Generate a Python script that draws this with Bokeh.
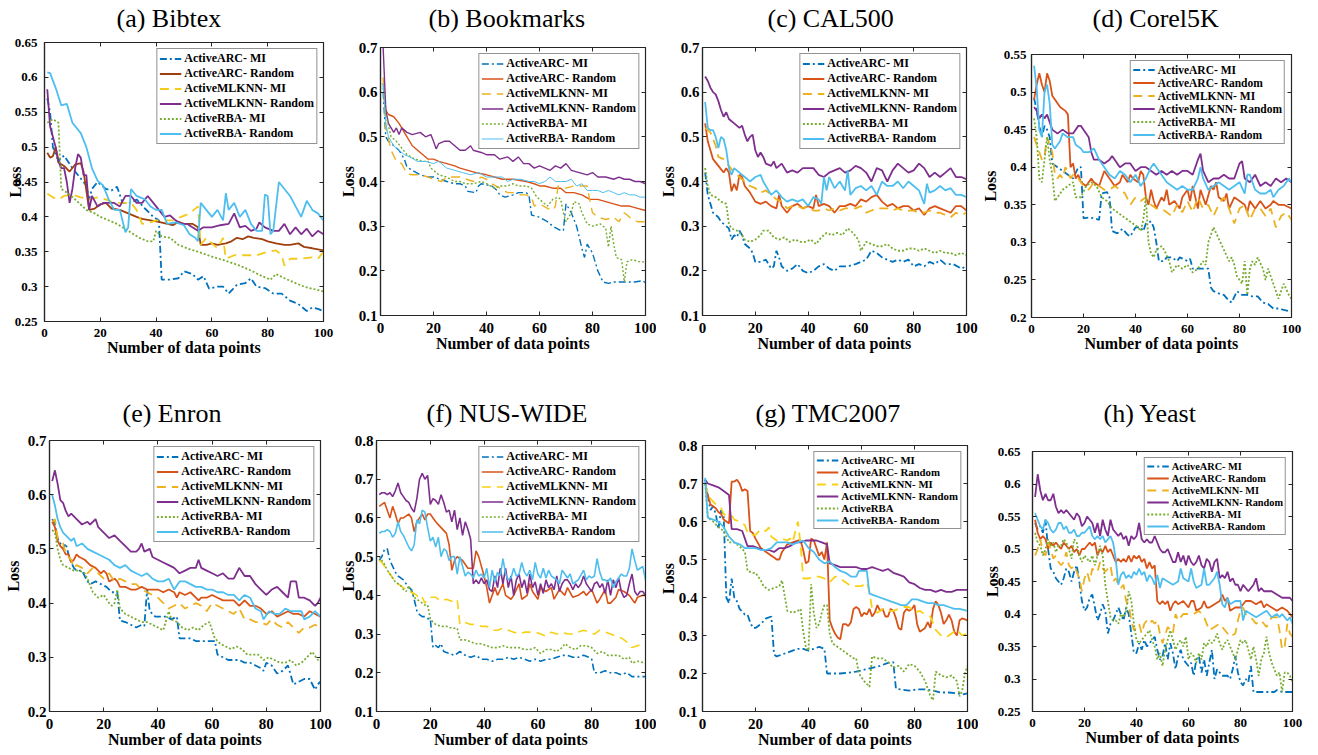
from bokeh.plotting import figure
from bokeh.models import FixedTicker, LinearAxis, Range1d, CustomJSTickFormatter
from bokeh.layouts import row, column
from bokeh.embed import file_html
from bokeh.resources import INLINE

# ---------------- labels / ticks ----------------
LABELS = ["ActiveARC- MI", "ActiveARC- Random", "ActiveMLKNN- MI",
          "ActiveMLKNN- Random", "ActiveRBA- MI", "ActiveRBA- Random"]
LABELS_G = ["ActiveARC- MI", "ActiveARC- Random", "ActiveMLKNN- MI",
            "ActiveMLKNN- Random", "ActiveRBA", "ActiveRBA- Random"]
X_TICKS = [0, 20, 40, 60, 80, 100]
Y_TICKS_A = [0.25, 0.3, 0.35, 0.4, 0.45, 0.5, 0.55, 0.6, 0.65]
Y_TICKS_B = [0.1, 0.2, 0.3, 0.4, 0.5, 0.6, 0.7]
Y_TICKS_C = [0.1, 0.2, 0.3, 0.4, 0.5, 0.6, 0.7]
Y_TICKS_D = [0.2, 0.25, 0.3, 0.35, 0.4, 0.45, 0.5, 0.55]
Y_TICKS_E = [0.2, 0.3, 0.4, 0.5, 0.6, 0.7]
Y_TICKS_F = [0.1, 0.2, 0.3, 0.4, 0.5, 0.6, 0.7, 0.8]
Y_TICKS_G = [0.1, 0.2, 0.3, 0.4, 0.5, 0.6, 0.7, 0.8]
Y_TICKS_H = [0.25, 0.3, 0.35, 0.4, 0.45, 0.5, 0.55, 0.6, 0.65]

# ---------------- (a) Bibtex ----------------
a_arc_mi = [(1,.57),(2,.55),(3,.50),(5,.48),(7,.488),(10,.47),(13,.455),(15,.445),(16,.425),(17,.44),(19,.45),(22,.44),(24,.438),(26,.443),(28,.42),(31,.42),(33,.425),(36,.412),(39,.40),(41,.395),(42,.31),(45,.31),(48,.312),(50,.322),(53,.318),(55,.31),(57,.315),(59,.297),(62,.30),(64,.30),(66,.29),(69,.303),(72,.305),(74,.312),(76,.30),(79,.298),(82,.29),(85,.29),(88,.28),(91,.275),(94,.265),(96,.27),(98,.268),(100,.265)]
a_arc_rand = [(1,.492),(2,.485),(3,.487),(4,.50),(5,.478),(7,.473),(9,.465),(11,.475),(13,.477),(14,.465),(16,.41),(18,.412),(20,.418),(22,.42),(24,.412),(27,.41),(30,.405),(33,.40),(35,.397),(38,.395),(41,.393),(44,.39),(46,.388),(48,.393),(50,.39),(53,.39),(55,.385),(56,.36),(58,.36),(60,.362),(62,.36),(65,.362),(67,.365),(69,.37),(71,.368),(73,.372),(75,.37),(78,.368),(80,.365),(83,.362),(86,.36),(88,.36),(91,.362),(93,.357),(96,.355),(100,.352)]
a_mlknn_mi = [(1,.433),(3,.428),(5,.425),(7,.43),(10,.432),(13,.428),(16,.425),(19,.428),(22,.425),(25,.42),(28,.42),(31,.42),(33,.41),(35,.39),(38,.392),(40,.395),(43,.395),(46,.395),(49,.40),(52,.405),(55,.415),(56,.36),(58,.37),(60,.362),(62,.355),(64,.37),(65,.34),(68,.345),(72,.345),(76,.345),(80,.35),(83,.352),(85,.345),(86,.33),(88,.34),(92,.34),(96,.342),(98,.34),(100,.35)]
a_mlknn_rand = [(1,.583),(2,.53),(4,.50),(5,.48),(6,.47),(7,.47),(8,.45),(9,.42),(10,.44),(11,.47),(12,.49),(13,.485),(14,.46),(15,.46),(16,.41),(17,.43),(19,.415),(21,.42),(23,.42),(25,.42),(27,.415),(29,.43),(31,.43),(33,.42),(35,.42),(37,.43),(39,.42),(41,.41),(43,.40),(45,.402),(47,.395),(49,.39),(51,.39),(53,.385),(55,.38),(57,.385),(60,.385),(63,.388),(66,.39),(68,.405),(70,.385),(72,.387),(74,.38),(76,.383),(77,.392),(79,.385),(82,.38),(84,.38),(86,.39),(88,.375),(90,.385),(92,.375),(94,.383),(96,.372),(98,.38),(100,.375)]
a_rba_mi = [(1,.535),(3,.54),(5,.535),(6,.44),(8,.435),(11,.425),(15,.41),(18,.405),(20,.40),(23,.395),(26,.39),(30,.38),(34,.37),(37,.365),(39,.365),(40,.38),(42,.372),(45,.37),(48,.36),(51,.355),(55,.35),(60,.343),(65,.337),(70,.33),(74,.323),(78,.315),(81,.31),(83,.318),(86,.312),(90,.305),(93,.30),(96,.297),(100,.293)]
a_rba_rand = [(1,.607),(2,.606),(4,.585),(6,.56),(8,.562),(10,.535),(13,.52),(15,.50),(17,.47),(19,.452),(21,.445),(23,.425),(25,.41),(27,.41),(29,.378),(30,.385),(31,.44),(33,.43),(36,.425),(38,.415),(40,.41),(42,.41),(44,.39),(47,.392),(50,.388),(52,.375),(54,.37),(55,.365),(56,.42),(58,.41),(60,.40),(62,.41),(64,.395),(65,.434),(66,.41),(68,.42),(70,.40),(72,.41),(74,.39),(76,.38),(78,.38),(79,.432),(80,.43),(81,.375),(82,.38),(84,.45),(86,.44),(88,.43),(90,.415),(92,.40),(94,.423),(96,.41),(98,.405),(100,.395)]

# ---------------- (b) Bookmarks ----------------
b_arc_mi = [(1,.60),(2,.50),(3,.49),(5,.48),(7,.47),(9,.45),(10,.432),(12,.425),(15,.415),(18,.41),(20,.41),(25,.40),(28,.395),(30,.395),(32,.39),(33,.378),(36,.375),(37,.39),(38,.395),(42,.39),(44,.38),(45,.37),(47,.365),(50,.37),(52,.375),(55,.375),(56,.37),(57,.325),(60,.32),(63,.31),(65,.30),(68,.29),(69,.29),(70,.35),(72,.33),(74,.30),(76,.25),(77,.23),(78,.26),(80,.24),(82,.20),(84,.175),(86,.172),(88,.175),(92,.175),(96,.175),(99,.178),(100,.173)]
b_arc_rand = [(1,.62),(2,.56),(3,.55),(5,.545),(7,.53),(8,.52),(10,.50),(12,.48),(14,.47),(16,.46),(18,.45),(20,.45),(22,.445),(25,.44),(28,.435),(30,.43),(33,.425),(36,.42),(40,.415),(43,.41),(46,.405),(50,.405),(55,.40),(58,.395),(60,.39),(62,.39),(65,.385),(68,.385),(70,.375),(73,.375),(76,.37),(79,.36),(82,.36),(85,.355),(88,.35),(91,.345),(94,.345),(97,.34),(100,.335)]
b_mlknn_mi = [(1,.633),(2,.52),(4,.47),(6,.445),(8,.44),(10,.417),(12,.415),(15,.415),(18,.41),(20,.405),(23,.40),(25,.41),(27,.41),(30,.41),(35,.40),(38,.41),(40,.405),(42,.395),(45,.385),(48,.375),(50,.375),(53,.37),(55,.37),(57,.365),(58,.345),(60,.35),(63,.34),(65,.335),(66,.345),(67,.39),(70,.385),(73,.39),(75,.39),(78,.39),(79,.357),(80,.33),(82,.32),(85,.315),(88,.32),(90,.31),(92,.33),(95,.315),(97,.31),(100,.31)]
b_mlknn_rand = [(1,.70),(2,.56),(3,.53),(4,.52),(5,.51),(6,.52),(7,.505),(8,.52),(10,.51),(12,.505),(15,.51),(17,.50),(19,.505),(20,.49),(21,.473),(22,.485),(24,.49),(26,.49),(28,.48),(30,.47),(32,.47),(34,.48),(35,.47),(38,.465),(40,.46),(43,.46),(45,.45),(48,.455),(50,.445),(52,.455),(54,.44),(56,.44),(58,.43),(60,.435),(62,.43),(64,.425),(66,.435),(68,.43),(70,.44),(72,.425),(75,.42),(78,.415),(80,.42),(82,.41),(85,.41),(88,.405),(90,.41),(92,.405),(94,.405),(96,.40),(98,.40),(100,.395)]
b_rba_mi = [(1,.61),(2,.55),(4,.50),(6,.49),(8,.475),(10,.46),(13,.45),(16,.445),(18,.445),(19,.43),(20,.425),(22,.415),(25,.41),(28,.40),(30,.40),(32,.395),(35,.395),(38,.40),(40,.395),(43,.385),(45,.39),(48,.39),(50,.395),(52,.39),(55,.39),(57,.385),(59,.365),(61,.355),(63,.345),(65,.36),(67,.365),(68,.36),(69,.33),(70,.31),(72,.33),(73,.355),(75,.35),(76,.33),(78,.305),(80,.30),(83,.305),(85,.295),(86,.253),(87,.30),(88,.26),(89,.23),(91,.225),(92,.175),(93,.22),(95,.225),(98,.22),(100,.22)]
b_rba_rand = [(1,.62),(2,.53),(3,.50),(5,.48),(7,.47),(9,.46),(11,.455),(14,.445),(17,.445),(20,.44),(22,.445),(25,.43),(28,.425),(31,.42),(34,.415),(37,.42),(40,.41),(43,.41),(46,.41),(48,.40),(50,.405),(53,.405),(56,.40),(58,.40),(60,.395),(62,.40),(64,.41),(66,.40),(68,.40),(70,.40),(72,.405),(74,.39),(76,.395),(78,.38),(80,.38),(82,.38),(84,.375),(86,.38),(88,.375),(90,.37),(92,.375),(94,.37),(96,.37),(98,.365),(100,.365)]

# ---------------- (c) CAL500 ----------------
c_arc_mi = [(1,.42),(2,.37),(3,.35),(4,.33),(5,.325),(6,.32),(7,.31),(8,.305),(10,.295),(11,.27),(12,.28),(13,.275),(14,.29),(15,.28),(16,.26),(18,.25),(19,.24),(20,.22),(22,.22),(24,.225),(26,.205),(27,.21),(28,.245),(29,.23),(30,.21),(32,.20),(34,.205),(36,.215),(38,.20),(40,.195),(42,.20),(44,.21),(46,.215),(48,.205),(50,.20),(52,.21),(55,.21),(58,.215),(60,.22),(62,.225),(64,.245),(66,.24),(68,.23),(70,.225),(72,.22),(74,.225),(76,.22),(78,.225),(80,.21),(82,.215),(84,.21),(86,.22),(88,.215),(90,.225),(92,.215),(95,.215),(98,.205),(100,.21)]
c_arc_rand = [(1,.53),(2,.49),(3,.47),(4,.45),(6,.435),(8,.42),(9,.43),(10,.42),(11,.378),(12,.395),(13,.38),(14,.415),(15,.41),(16,.39),(18,.375),(20,.355),(22,.35),(24,.355),(26,.345),(28,.34),(29,.37),(30,.345),(32,.33),(34,.345),(36,.35),(38,.34),(40,.345),(42,.34),(43,.37),(44,.345),(46,.35),(48,.345),(50,.33),(52,.345),(54,.345),(56,.35),(58,.345),(60,.36),(62,.355),(64,.365),(66,.37),(68,.355),(70,.345),(72,.35),(74,.34),(76,.345),(78,.345),(80,.335),(82,.34),(84,.325),(86,.34),(88,.345),(90,.34),(92,.335),(94,.33),(96,.345),(98,.345),(100,.335)]
c_mlknn_mi = [(1,.52),(3,.51),(5,.48),(6,.455),(8,.45),(10,.435),(12,.42),(14,.41),(16,.40),(18,.39),(20,.385),(22,.375),(24,.38),(26,.37),(28,.36),(30,.355),(32,.34),(34,.345),(36,.345),(38,.34),(40,.345),(42,.335),(44,.335),(46,.34),(48,.335),(50,.34),(52,.335),(54,.34),(56,.34),(58,.34),(60,.345),(62,.33),(64,.335),(66,.34),(68,.34),(70,.34),(72,.335),(74,.34),(76,.335),(78,.335),(80,.335),(82,.33),(84,.33),(86,.335),(88,.33),(90,.33),(92,.325),(94,.32),(96,.33),(98,.325),(100,.33)]
c_mlknn_rand = [(1,.635),(2,.625),(3,.61),(4,.60),(5,.595),(6,.58),(7,.56),(8,.545),(9,.555),(10,.54),(12,.53),(14,.52),(15,.525),(16,.505),(17,.49),(18,.50),(19,.505),(20,.47),(21,.455),(22,.465),(23,.455),(24,.44),(26,.435),(27,.445),(28,.43),(30,.44),(32,.42),(34,.425),(36,.42),(38,.43),(40,.43),(42,.43),(44,.415),(46,.41),(48,.42),(50,.425),(52,.43),(54,.42),(56,.425),(58,.435),(60,.43),(62,.42),(64,.40),(66,.43),(68,.425),(70,.40),(72,.425),(74,.44),(76,.43),(78,.42),(80,.425),(82,.44),(84,.43),(86,.41),(88,.42),(90,.41),(92,.42),(94,.43),(96,.41),(98,.41),(100,.405)]
c_rba_mi = [(1,.43),(2,.39),(3,.37),(5,.365),(7,.355),(9,.35),(10,.305),(11,.295),(13,.29),(15,.28),(16,.27),(18,.265),(20,.27),(22,.28),(23,.29),(25,.29),(27,.275),(29,.27),(31,.275),(33,.265),(35,.27),(37,.265),(39,.265),(41,.27),(43,.26),(45,.275),(47,.285),(49,.28),(51,.285),(53,.28),(55,.295),(57,.285),(59,.27),(60,.245),(62,.265),(64,.26),(66,.255),(68,.255),(70,.26),(72,.25),(74,.245),(76,.245),(78,.25),(80,.25),(82,.245),(84,.25),(86,.245),(88,.24),(90,.245),(92,.24),(94,.24),(96,.235),(98,.24),(100,.235)]
c_rba_rand = [(1,.578),(2,.52),(3,.515),(4,.515),(5,.50),(6,.475),(7,.50),(8,.495),(9,.47),(10,.43),(11,.415),(12,.43),(14,.42),(16,.41),(18,.40),(20,.41),(22,.415),(23,.40),(24,.39),(26,.37),(28,.38),(30,.365),(32,.355),(34,.36),(36,.355),(38,.36),(40,.345),(42,.365),(44,.36),(45,.35),(46,.41),(47,.38),(48,.41),(50,.385),(52,.40),(54,.38),(55,.425),(56,.37),(58,.385),(60,.39),(62,.38),(64,.39),(66,.37),(68,.40),(70,.39),(72,.39),(74,.40),(76,.385),(78,.40),(80,.39),(82,.38),(84,.35),(85,.395),(86,.375),(88,.38),(90,.39),(92,.38),(94,.385),(96,.37),(98,.37),(100,.365)]

# ---------------- (d) Corel5K ----------------
d_arc_mi = [(1,.492),(2,.475),(3,.455),(4,.44),(5,.455),(6,.45),(7,.44),(8,.405),(10,.40),(12,.395),(14,.39),(16,.385),(18,.40),(19,.40),(20,.332),(22,.333),(24,.332),(26,.33),(27,.365),(29,.367),(30,.36),(31,.315),(33,.312),(35,.318),(37,.31),(38,.308),(40,.32),(42,.32),(43,.315),(44,.325),(46,.328),(47,.32),(48,.30),(49,.275),(51,.275),(52,.28),(54,.28),(56,.275),(57,.28),(59,.277),(60,.275),(61,.278),(62,.265),(64,.265),(66,.265),(68,.265),(69,.24),(70,.235),(72,.232),(74,.23),(76,.222),(77,.22),(79,.235),(81,.23),(83,.23),(85,.228),(87,.228),(89,.22),(91,.218),(93,.212),(95,.212),(97,.21),(100,.208)]
d_arc_rand = [(1,.49),(2,.51),(3,.525),(4,.51),(5,.50),(6,.525),(7,.515),(8,.495),(9,.49),(11,.48),(13,.475),(14,.47),(15,.40),(16,.405),(17,.385),(18,.39),(19,.38),(21,.375),(23,.385),(24,.38),(26,.375),(28,.395),(29,.39),(30,.385),(32,.375),(34,.38),(35,.39),(37,.38),(38,.39),(39,.385),(41,.38),(42,.395),(43,.39),(44,.36),(45,.35),(46,.37),(47,.355),(48,.345),(50,.36),(51,.355),(52,.37),(53,.35),(55,.355),(57,.345),(58,.36),(60,.37),(61,.355),(62,.375),(63,.36),(64,.345),(65,.37),(67,.35),(69,.375),(70,.37),(71,.38),(72,.36),(74,.355),(75,.365),(76,.345),(78,.36),(80,.355),(82,.35),(83,.34),(84,.355),(86,.345),(88,.355),(90,.345),(92,.35),(93,.355),(95,.35),(97,.35),(100,.345)]
d_mlknn_mi = [(1,.44),(2,.43),(3,.42),(4,.41),(5,.415),(6,.44),(7,.43),(8,.42),(9,.39),(10,.385),(11,.39),(12,.385),(13,.40),(14,.395),(15,.385),(16,.39),(17,.385),(18,.385),(20,.375),(22,.37),(24,.38),(26,.375),(28,.37),(30,.37),(32,.375),(34,.37),(36,.365),(38,.35),(40,.36),(42,.355),(44,.36),(46,.35),(48,.345),(50,.345),(52,.34),(54,.335),(56,.35),(58,.34),(60,.355),(62,.34),(64,.36),(66,.345),(68,.35),(70,.335),(72,.35),(74,.36),(76,.345),(78,.325),(80,.345),(82,.35),(84,.33),(86,.345),(88,.345),(90,.335),(92,.345),(94,.32),(96,.335),(98,.34),(100,.33)]
d_mlknn_rand = [(1,.48),(2,.475),(3,.465),(4,.47),(5,.465),(6,.47),(7,.46),(8,.45),(10,.445),(12,.45),(14,.445),(16,.445),(18,.455),(19,.455),(20,.45),(22,.44),(23,.42),(24,.41),(26,.41),(28,.405),(30,.41),(31,.415),(32,.41),(34,.40),(36,.405),(38,.405),(40,.395),(42,.40),(44,.40),(46,.395),(48,.39),(50,.395),(52,.39),(54,.395),(56,.39),(58,.395),(60,.395),(62,.39),(64,.41),(65,.418),(66,.395),(68,.38),(70,.385),(72,.385),(74,.39),(76,.385),(78,.385),(80,.405),(81,.408),(82,.385),(84,.38),(86,.39),(88,.375),(90,.38),(92,.375),(94,.385),(96,.38),(98,.385),(100,.38)]
d_rba_mi = [(1,.465),(2,.44),(3,.385),(4,.38),(5,.41),(6,.44),(7,.41),(8,.39),(9,.355),(10,.36),(12,.37),(14,.375),(16,.38),(17,.36),(19,.36),(21,.375),(23,.38),(25,.375),(27,.36),(29,.355),(31,.345),(33,.34),(35,.335),(37,.33),(39,.325),(41,.32),(42,.315),(43,.33),(44,.36),(45,.30),(46,.285),(47,.28),(48,.29),(50,.295),(51,.29),(53,.275),(54,.26),(56,.27),(58,.265),(60,.27),(62,.26),(64,.265),(66,.275),(67,.27),(68,.30),(70,.32),(72,.305),(74,.29),(76,.275),(77,.28),(78,.27),(79,.255),(81,.245),(82,.275),(83,.23),(84,.265),(85,.275),(86,.27),(87,.28),(89,.265),(90,.25),(91,.265),(93,.245),(95,.225),(97,.245),(99,.23),(100,.225)]
d_rba_rand = [(1,.535),(2,.505),(3,.45),(4,.44),(5,.50),(6,.51),(7,.485),(8,.43),(9,.425),(11,.435),(12,.445),(14,.44),(16,.44),(17,.43),(19,.425),(20,.42),(22,.42),(24,.425),(26,.41),(28,.40),(30,.39),(32,.385),(34,.395),(36,.39),(38,.38),(40,.39),(42,.375),(44,.385),(46,.40),(47,.405),(48,.40),(50,.39),(52,.38),(54,.375),(56,.37),(58,.375),(60,.37),(62,.37),(64,.385),(65,.40),(66,.385),(68,.37),(70,.375),(72,.38),(74,.375),(76,.37),(78,.375),(80,.38),(82,.365),(83,.39),(84,.39),(86,.37),(88,.365),(90,.365),(92,.37),(93,.36),(95,.37),(97,.375),(99,.385),(100,.38)]

# ---------------- (e) Enron ----------------
e_arc_mi = [(1,.555),(2,.545),(3,.52),(5,.50),(6,.51),(7,.49),(8,.475),(9,.465),(10,.46),(12,.46),(14,.44),(15,.435),(17,.44),(19,.435),(21,.43),(23,.42),(25,.42),(26,.368),(28,.365),(30,.36),(32,.355),(34,.36),(35,.358),(36,.425),(37,.385),(39,.375),(41,.375),(43,.375),(45,.37),(47,.375),(48,.335),(50,.335),(52,.335),(54,.33),(56,.33),(58,.33),(61,.33),(62,.305),(64,.30),(66,.295),(68,.295),(70,.295),(72,.29),(74,.29),(76,.285),(78,.28),(79,.275),(80,.29),(82,.285),(84,.27),(86,.275),(88,.285),(90,.25),(92,.255),(94,.26),(96,.26),(98,.24),(99,.25),(100,.255)]
e_arc_rand = [(1,.55),(2,.54),(3,.515),(4,.505),(5,.50),(6,.49),(7,.49),(8,.475),(9,.48),(10,.49),(11,.485),(13,.48),(15,.47),(17,.465),(19,.455),(20,.46),(21,.455),(22,.44),(24,.445),(25,.44),(26,.43),(28,.43),(30,.425),(32,.425),(34,.43),(36,.425),(38,.425),(40,.425),(42,.42),(44,.425),(46,.42),(47,.41),(48,.42),(50,.415),(52,.42),(54,.41),(55,.405),(56,.41),(58,.41),(60,.415),(62,.41),(64,.405),(66,.405),(68,.405),(70,.395),(72,.405),(74,.395),(76,.395),(78,.39),(80,.38),(82,.385),(84,.375),(86,.38),(88,.385),(90,.38),(92,.38),(94,.375),(96,.385),(98,.38),(100,.375)]
e_mlknn_mi = [(1,.55),(2,.555),(3,.52),(5,.51),(6,.49),(8,.48),(9,.465),(10,.47),(12,.465),(14,.455),(16,.465),(17,.46),(18,.455),(20,.445),(22,.455),(24,.44),(26,.445),(28,.44),(30,.435),(32,.435),(34,.425),(36,.42),(38,.415),(40,.41),(42,.40),(44,.39),(46,.395),(48,.40),(50,.39),(52,.395),(54,.40),(56,.395),(58,.385),(60,.40),(62,.395),(64,.39),(66,.385),(68,.38),(70,.39),(72,.37),(74,.37),(76,.365),(78,.365),(80,.36),(82,.37),(84,.36),(86,.355),(88,.365),(90,.355),(92,.345),(94,.355),(96,.355),(98,.36),(100,.355)]
e_mlknn_rand = [(1,.625),(2,.645),(3,.62),(4,.59),(5,.585),(6,.57),(7,.56),(8,.565),(10,.555),(12,.545),(14,.55),(15,.545),(17,.555),(18,.54),(20,.53),(21,.525),(22,.52),(24,.525),(26,.515),(28,.505),(30,.495),(32,.495),(33,.50),(34,.51),(35,.495),(37,.50),(38,.485),(40,.48),(42,.475),(44,.47),(46,.465),(48,.455),(50,.46),(52,.465),(54,.465),(55,.48),(56,.465),(58,.46),(60,.455),(62,.45),(64,.455),(66,.445),(68,.445),(70,.465),(72,.45),(74,.45),(76,.435),(78,.425),(80,.415),(82,.425),(84,.43),(86,.42),(88,.41),(89,.44),(91,.44),(92,.41),(94,.41),(96,.405),(98,.395),(99,.40),(100,.41)]
e_rba_mi = [(1,.535),(2,.53),(3,.50),(4,.48),(5,.47),(7,.465),(9,.46),(11,.46),(13,.455),(14,.445),(16,.42),(18,.41),(20,.415),(22,.40),(23,.395),(24,.40),(25,.425),(26,.39),(28,.38),(30,.375),(32,.37),(34,.365),(36,.365),(38,.36),(40,.355),(42,.35),(44,.385),(45,.37),(47,.365),(49,.355),(51,.35),(53,.355),(55,.35),(57,.36),(59,.365),(61,.335),(63,.325),(65,.32),(67,.315),(69,.32),(71,.315),(73,.305),(75,.305),(77,.305),(79,.295),(81,.30),(83,.295),(85,.29),(87,.29),(89,.295),(91,.285),(93,.29),(95,.30),(97,.31),(99,.295),(100,.30)]
e_rba_rand = [(1,.60),(2,.58),(3,.555),(4,.54),(5,.53),(6,.525),(7,.52),(8,.515),(9,.52),(10,.505),(12,.51),(14,.50),(16,.495),(18,.49),(20,.485),(22,.48),(24,.47),(26,.465),(28,.47),(30,.46),(32,.455),(34,.45),(36,.455),(38,.445),(40,.44),(42,.44),(44,.445),(46,.425),(48,.44),(50,.44),(52,.435),(54,.43),(56,.43),(58,.425),(60,.425),(62,.42),(64,.42),(66,.415),(68,.415),(70,.405),(72,.415),(74,.41),(76,.39),(78,.385),(79,.37),(81,.385),(83,.38),(85,.38),(87,.39),(89,.385),(91,.385),(93,.385),(94,.37),(96,.375),(98,.385),(100,.375)]

# ---------------- (f) NUS-WIDE ----------------
f_arc_mi = [(1,.49),(2,.50),(3,.52),(4,.52),(5,.49),(7,.46),(8,.45),(9,.445),(10,.44),(12,.42),(13,.415),(14,.39),(15,.36),(16,.35),(17,.345),(18,.345),(19,.34),(20,.34),(21,.265),(22,.27),(23,.265),(24,.275),(25,.255),(27,.25),(29,.245),(31,.255),(33,.245),(35,.24),(37,.245),(39,.235),(41,.235),(43,.23),(45,.235),(47,.235),(49,.24),(51,.235),(53,.24),(55,.235),(57,.23),(59,.235),(61,.23),(63,.235),(65,.235),(67,.24),(69,.245),(71,.245),(73,.24),(75,.24),(77,.245),(79,.24),(80,.235),(81,.20),(83,.20),(85,.205),(87,.20),(89,.20),(91,.195),(93,.20),(95,.19),(97,.19),(100,.19)]
f_arc_rand = [(1,.63),(3,.64),(4,.62),(5,.60),(6,.63),(7,.61),(8,.585),(9,.60),(10,.60),(12,.61),(13,.60),(14,.565),(15,.59),(16,.60),(17,.61),(18,.595),(19,.61),(20,.61),(21,.60),(22,.59),(24,.575),(26,.56),(27,.53),(28,.465),(29,.49),(30,.50),(32,.49),(34,.47),(36,.47),(37,.515),(38,.50),(40,.45),(41,.42),(42,.38),(44,.42),(45,.40),(47,.43),(48,.40),(50,.39),(51,.40),(53,.43),(54,.39),(56,.40),(57,.43),(58,.41),(60,.39),(61,.42),(63,.41),(65,.42),(66,.39),(68,.415),(70,.40),(71,.42),(73,.395),(75,.40),(77,.41),(78,.40),(80,.415),(82,.38),(83,.39),(85,.415),(86,.38),(87,.38),(89,.395),(90,.415),(92,.41),(94,.40),(95,.39),(96,.38),(97,.395),(99,.40),(100,.40)]
f_mlknn_mi = [(1,.49),(2,.485),(4,.465),(6,.445),(8,.43),(10,.42),(12,.41),(14,.405),(15,.40),(16,.39),(17,.395),(18,.38),(19,.39),(20,.395),(22,.395),(24,.385),(26,.39),(28,.385),(30,.39),(31,.325),(33,.33),(35,.325),(37,.325),(39,.32),(41,.32),(43,.31),(45,.31),(47,.315),(49,.31),(51,.305),(53,.30),(55,.305),(57,.305),(59,.305),(61,.30),(63,.295),(65,.305),(67,.30),(69,.305),(71,.30),(73,.30),(75,.305),(77,.31),(79,.305),(81,.30),(83,.31),(85,.305),(87,.30),(89,.295),(91,.29),(93,.28),(95,.265),(97,.27),(99,.275),(100,.27)]
f_mlknn_rand = [(1,.66),(2,.665),(3,.665),(4,.66),(5,.665),(6,.655),(7,.67),(8,.69),(9,.665),(10,.655),(11,.645),(12,.64),(13,.625),(14,.615),(15,.65),(16,.70),(17,.715),(18,.70),(19,.71),(20,.635),(21,.65),(22,.645),(23,.635),(24,.66),(25,.64),(26,.615),(27,.62),(28,.59),(29,.62),(30,.57),(31,.60),(32,.555),(33,.59),(34,.57),(35,.545),(36,.43),(37,.44),(38,.43),(39,.445),(40,.43),(41,.44),(42,.415),(43,.41),(44,.45),(45,.42),(46,.47),(47,.43),(48,.47),(49,.42),(50,.45),(51,.40),(52,.44),(53,.455),(54,.42),(55,.44),(56,.405),(57,.455),(58,.42),(59,.435),(60,.40),(61,.43),(62,.405),(63,.44),(64,.42),(65,.43),(66,.415),(67,.45),(68,.41),(69,.43),(70,.44),(71,.44),(72,.43),(73,.415),(74,.43),(75,.42),(76,.43),(77,.45),(78,.43),(79,.42),(80,.41),(81,.43),(82,.435),(83,.42),(84,.43),(85,.405),(86,.44),(87,.40),(88,.44),(89,.42),(90,.445),(91,.41),(92,.395),(93,.40),(94,.43),(95,.455),(96,.41),(97,.40),(98,.41),(99,.41),(100,.40)]
f_rba_mi = [(1,.50),(2,.49),(3,.48),(4,.465),(5,.455),(6,.445),(7,.435),(8,.43),(9,.425),(10,.415),(11,.41),(12,.425),(13,.41),(14,.395),(15,.39),(16,.385),(17,.38),(18,.375),(19,.375),(20,.34),(21,.33),(22,.325),(24,.32),(26,.32),(28,.315),(30,.315),(31,.285),(33,.285),(35,.28),(37,.275),(39,.275),(41,.27),(43,.265),(45,.265),(47,.27),(49,.265),(51,.265),(53,.265),(55,.26),(57,.26),(59,.265),(61,.25),(63,.26),(65,.26),(67,.255),(69,.265),(70,.275),(72,.265),(74,.26),(76,.27),(78,.27),(80,.265),(82,.25),(84,.255),(86,.245),(88,.245),(90,.245),(92,.235),(94,.24),(95,.225),(97,.23),(100,.225)]
f_rba_rand = [(1,.56),(2,.565),(3,.565),(4,.57),(5,.565),(6,.55),(7,.56),(8,.59),(9,.565),(10,.555),(12,.525),(13,.515),(14,.53),(15,.595),(16,.585),(17,.62),(18,.615),(19,.575),(20,.54),(21,.55),(22,.525),(23,.55),(24,.50),(25,.52),(26,.515),(27,.49),(28,.50),(29,.50),(30,.455),(31,.50),(32,.475),(33,.45),(34,.46),(35,.455),(36,.445),(37,.465),(38,.45),(39,.455),(40,.445),(41,.47),(42,.42),(43,.465),(44,.435),(45,.46),(46,.45),(47,.495),(48,.455),(49,.44),(50,.445),(51,.47),(52,.45),(53,.455),(54,.485),(55,.46),(56,.45),(57,.465),(58,.44),(59,.485),(60,.455),(61,.445),(62,.47),(63,.445),(64,.465),(65,.45),(67,.44),(68,.43),(69,.465),(70,.455),(71,.445),(72,.455),(73,.43),(75,.44),(77,.465),(78,.44),(79,.45),(80,.445),(81,.45),(82,.495),(83,.46),(84,.44),(85,.44),(86,.435),(87,.445),(88,.42),(89,.435),(90,.445),(91,.455),(92,.45),(93,.45),(94,.47),(95,.52),(96,.49),(97,.465),(98,.47),(99,.475),(100,.44)]

# ---------------- (g) TMC2007 ----------------
g_arc_mi = [(1,.71),(2,.67),(3,.63),(4,.64),(5,.62),(6,.58),(7,.63),(8,.615),(9,.40),(10,.385),(11,.45),(12,.40),(13,.39),(14,.37),(16,.355),(17,.355),(18,.335),(19,.32),(20,.32),(22,.33),(24,.345),(26,.35),(27,.25),(28,.245),(30,.25),(32,.255),(34,.26),(36,.265),(38,.265),(40,.26),(42,.265),(44,.27),(46,.265),(47,.20),(49,.20),(52,.20),(55,.202),(58,.205),(61,.21),(64,.215),(67,.22),(70,.228),(72,.23),(73,.16),(75,.158),(78,.155),(81,.158),(84,.158),(87,.155),(90,.15),(93,.15),(96,.148),(98,.145),(100,.148)]
g_arc_rand = [(1,.70),(2,.67),(3,.645),(4,.64),(5,.635),(6,.625),(7,.62),(8,.605),(9,.60),(10,.595),(11,.705),(12,.705),(13,.71),(14,.70),(15,.68),(16,.685),(17,.68),(18,.575),(19,.57),(20,.555),(22,.53),(24,.52),(26,.51),(27,.505),(28,.50),(29,.50),(30,.52),(32,.54),(34,.545),(36,.55),(37,.55),(38,.525),(39,.49),(40,.495),(41,.555),(42,.55),(43,.53),(44,.51),(45,.52),(46,.50),(47,.545),(48,.34),(49,.32),(50,.305),(51,.295),(52,.29),(53,.33),(54,.33),(55,.325),(56,.335),(57,.37),(58,.375),(59,.37),(60,.35),(61,.36),(62,.355),(63,.37),(64,.35),(65,.36),(66,.38),(67,.365),(68,.37),(69,.35),(70,.35),(71,.37),(72,.365),(73,.345),(74,.32),(75,.315),(76,.36),(77,.37),(78,.365),(79,.37),(80,.38),(81,.33),(82,.31),(84,.32),(85,.335),(86,.32),(87,.37),(88,.39),(89,.38),(90,.36),(91,.33),(92,.34),(93,.355),(94,.34),(95,.31),(96,.30),(97,.34),(98,.345),(100,.34)]
g_mlknn_mi = [(1,.70),(2,.675),(3,.66),(5,.645),(7,.635),(8,.62),(9,.615),(11,.615),(12,.605),(14,.60),(16,.59),(17,.57),(18,.565),(20,.565),(22,.58),(24,.575),(25,.585),(26,.56),(28,.55),(30,.555),(32,.55),(33,.555),(34,.545),(36,.60),(37,.54),(38,.45),(40,.45),(42,.455),(44,.455),(46,.45),(48,.44),(50,.455),(52,.45),(54,.44),(56,.43),(58,.43),(60,.43),(62,.44),(63,.415),(64,.37),(66,.36),(68,.37),(70,.365),(72,.365),(74,.37),(76,.375),(78,.375),(80,.36),(82,.365),(84,.355),(86,.35),(88,.315),(90,.30),(92,.295),(94,.305),(96,.315),(98,.30),(100,.305)]
g_mlknn_rand = [(1,.71),(2,.70),(4,.695),(6,.69),(8,.68),(10,.67),(11,.58),(13,.58),(15,.575),(16,.555),(17,.535),(19,.535),(21,.53),(23,.525),(25,.525),(27,.52),(29,.53),(31,.53),(33,.535),(35,.545),(37,.545),(39,.55),(41,.55),(43,.55),(45,.545),(47,.54),(48,.49),(50,.485),(52,.48),(54,.48),(56,.48),(58,.48),(60,.475),(62,.475),(64,.48),(66,.475),(68,.47),(70,.475),(72,.465),(74,.46),(76,.455),(78,.44),(80,.435),(82,.425),(84,.42),(86,.42),(88,.415),(90,.42),(92,.415),(94,.415),(96,.42),(98,.42),(100,.42)]
g_rba_mi = [(1,.70),(2,.61),(4,.60),(6,.585),(8,.575),(10,.545),(12,.545),(14,.535),(16,.52),(17,.47),(19,.465),(20,.465),(22,.445),(23,.43),(25,.42),(27,.425),(29,.43),(30,.445),(31,.405),(32,.365),(34,.36),(36,.365),(37,.37),(38,.31),(39,.27),(40,.26),(41,.435),(42,.36),(43,.32),(44,.33),(45,.36),(46,.38),(47,.38),(48,.305),(49,.28),(51,.27),(53,.26),(55,.25),(57,.24),(58,.24),(59,.20),(61,.18),(63,.165),(64,.245),(66,.24),(68,.24),(70,.23),(72,.215),(74,.22),(76,.205),(78,.225),(80,.22),(82,.205),(84,.18),(86,.14),(87,.13),(88,.205),(90,.195),(92,.19),(94,.195),(96,.18),(97,.14),(98,.155),(99,.20),(100,.22)]
g_rba_rand = [(1,.715),(2,.61),(4,.605),(6,.60),(8,.585),(10,.56),(12,.545),(14,.54),(16,.53),(18,.53),(20,.53),(22,.525),(24,.525),(26,.53),(28,.545),(30,.545),(32,.545),(34,.54),(36,.545),(38,.55),(40,.53),(42,.52),(44,.50),(46,.49),(48,.495),(50,.48),(52,.47),(54,.465),(56,.455),(58,.455),(59,.47),(61,.47),(62,.47),(63,.41),(65,.405),(67,.40),(69,.395),(71,.39),(73,.385),(75,.38),(77,.38),(79,.395),(81,.395),(83,.39),(85,.385),(87,.385),(89,.38),(91,.38),(93,.375),(95,.37),(97,.37),(100,.365)]

# ---------------- (h) Yeast ----------------
h_arc_mi = [(1,.54),(2,.53),(3,.535),(4,.525),(5,.545),(6,.50),(7,.47),(8,.465),(9,.455),(10,.45),(11,.445),(12,.455),(13,.47),(14,.465),(15,.45),(16,.465),(17,.475),(18,.45),(19,.42),(20,.405),(21,.41),(22,.425),(23,.43),(24,.41),(25,.39),(26,.40),(27,.415),(28,.405),(29,.37),(30,.385),(31,.39),(32,.40),(33,.41),(34,.40),(35,.39),(36,.41),(37,.40),(38,.37),(39,.34),(40,.34),(41,.355),(42,.345),(43,.36),(44,.35),(45,.355),(46,.36),(47,.365),(48,.345),(49,.33),(50,.335),(51,.355),(52,.33),(53,.355),(54,.34),(55,.315),(56,.335),(57,.345),(58,.33),(59,.325),(60,.32),(61,.325),(62,.305),(63,.33),(64,.335),(65,.31),(66,.33),(67,.305),(68,.325),(69,.345),(70,.30),(71,.315),(72,.31),(73,.305),(75,.305),(76,.30),(77,.315),(78,.335),(79,.31),(80,.295),(81,.29),(82,.30),(83,.295),(84,.32),(85,.28),(87,.28),(89,.28),(91,.28),(93,.28),(94,.283),(96,.28),(98,.28),(100,.28)]
h_arc_rand = [(1,.545),(2,.525),(3,.515),(4,.52),(5,.515),(6,.50),(7,.51),(8,.505),(9,.51),(10,.505),(11,.50),(12,.51),(13,.505),(14,.50),(15,.505),(16,.495),(17,.50),(18,.49),(19,.50),(20,.50),(21,.505),(22,.51),(23,.505),(24,.51),(25,.49),(26,.50),(27,.495),(28,.505),(29,.495),(30,.50),(31,.49),(32,.48),(33,.485),(34,.48),(35,.485),(36,.48),(37,.49),(38,.48),(39,.49),(40,.485),(41,.49),(42,.48),(43,.485),(44,.47),(45,.48),(46,.47),(47,.475),(48,.42),(49,.415),(50,.42),(51,.415),(52,.42),(53,.405),(54,.415),(55,.42),(56,.415),(58,.42),(60,.41),(61,.42),(62,.42),(63,.405),(65,.41),(66,.42),(67,.41),(68,.41),(70,.415),(72,.42),(73,.43),(74,.42),(75,.425),(76,.405),(78,.41),(80,.41),(82,.42),(84,.42),(86,.415),(88,.42),(89,.41),(90,.415),(92,.41),(94,.405),(96,.41),(98,.405),(100,.395)]
h_mlknn_mi = [(1,.49),(2,.50),(3,.515),(4,.495),(5,.49),(6,.51),(7,.50),(8,.485),(9,.49),(10,.48),(11,.475),(12,.48),(13,.495),(14,.475),(15,.47),(16,.475),(17,.465),(18,.455),(19,.435),(20,.455),(21,.465),(22,.45),(23,.47),(24,.465),(25,.465),(26,.48),(27,.47),(28,.465),(29,.47),(30,.475),(31,.45),(32,.455),(33,.445),(34,.44),(35,.445),(36,.42),(37,.415),(38,.39),(39,.375),(40,.38),(41,.385),(42,.37),(43,.385),(44,.39),(45,.385),(46,.39),(47,.385),(48,.39),(49,.37),(50,.355),(52,.38),(54,.37),(55,.40),(56,.39),(58,.40),(60,.40),(62,.40),(64,.405),(66,.395),(68,.375),(70,.38),(72,.385),(74,.375),(76,.365),(78,.37),(79,.39),(80,.405),(81,.41),(82,.40),(84,.395),(86,.385),(88,.39),(90,.38),(92,.395),(94,.395),(95,.375),(96,.345),(97,.35),(98,.385),(99,.37),(100,.365)]
h_mlknn_rand = [(1,.58),(2,.615),(3,.59),(4,.575),(5,.585),(6,.575),(7,.575),(8,.585),(9,.565),(10,.555),(11,.56),(12,.555),(13,.56),(14,.555),(15,.55),(16,.545),(17,.555),(18,.55),(19,.535),(20,.54),(21,.55),(22,.545),(23,.54),(24,.525),(25,.54),(26,.52),(27,.545),(28,.53),(29,.52),(30,.545),(31,.53),(32,.525),(33,.52),(34,.525),(35,.515),(36,.52),(37,.505),(38,.52),(39,.515),(40,.52),(41,.54),(42,.515),(43,.51),(44,.515),(45,.51),(46,.51),(47,.52),(48,.51),(49,.50),(50,.495),(51,.495),(52,.50),(53,.49),(54,.48),(55,.48),(56,.495),(57,.48),(58,.49),(59,.475),(60,.49),(61,.48),(62,.475),(63,.48),(64,.49),(65,.475),(66,.47),(67,.485),(68,.48),(69,.465),(70,.48),(71,.485),(72,.455),(73,.46),(74,.455),(75,.465),(76,.45),(77,.455),(78,.445),(79,.445),(80,.435),(81,.445),(82,.44),(83,.435),(84,.44),(85,.445),(86,.455),(87,.435),(88,.44),(89,.435),(90,.435),(92,.435),(94,.43),(96,.425),(98,.425),(99,.425),(100,.42)]
h_rba_mi = [(1,.525),(2,.51),(3,.505),(4,.49),(5,.50),(6,.515),(7,.505),(8,.51),(9,.495),(10,.505),(11,.505),(12,.515),(13,.51),(14,.50),(15,.485),(16,.515),(17,.51),(18,.49),(19,.48),(20,.49),(21,.485),(22,.48),(23,.49),(24,.475),(25,.49),(26,.505),(27,.49),(28,.445),(29,.42),(30,.395),(31,.39),(32,.39),(33,.385),(34,.40),(35,.395),(36,.405),(37,.435),(38,.42),(39,.385),(40,.36),(41,.355),(42,.36),(43,.365),(44,.37),(45,.375),(46,.36),(47,.35),(48,.33),(49,.34),(50,.32),(51,.345),(52,.36),(53,.375),(54,.36),(55,.345),(56,.355),(57,.36),(58,.35),(59,.365),(60,.33),(61,.34),(62,.335),(63,.325),(64,.34),(65,.33),(66,.355),(67,.35),(68,.36),(69,.355),(70,.36),(71,.37),(72,.355),(73,.345),(74,.355),(75,.36),(76,.35),(77,.34),(78,.33),(79,.345),(80,.36),(81,.355),(82,.36),(83,.345),(84,.33),(85,.35),(86,.33),(87,.305),(88,.33),(89,.34),(90,.365),(91,.34),(92,.325),(93,.315),(94,.305),(95,.31),(96,.28),(97,.31),(98,.31),(99,.305),(100,.295)]
h_rba_rand = [(1,.555),(2,.545),(3,.535),(4,.53),(5,.545),(6,.54),(7,.53),(8,.525),(9,.53),(10,.54),(11,.54),(12,.53),(13,.535),(14,.525),(15,.525),(16,.53),(17,.52),(18,.52),(19,.525),(20,.525),(21,.53),(22,.535),(23,.52),(24,.515),(25,.52),(26,.515),(27,.52),(28,.51),(29,.515),(30,.52),(31,.51),(32,.485),(33,.445),(34,.46),(35,.465),(36,.455),(37,.46),(38,.455),(39,.465),(40,.46),(41,.47),(42,.46),(43,.465),(44,.45),(45,.46),(46,.455),(47,.445),(48,.46),(49,.44),(50,.455),(52,.45),(54,.445),(56,.45),(57,.47),(58,.455),(60,.45),(61,.47),(62,.45),(63,.44),(65,.445),(66,.47),(67,.445),(68,.445),(70,.455),(71,.465),(72,.445),(73,.415),(74,.41),(75,.425),(76,.415),(78,.42),(80,.42),(81,.39),(82,.405),(84,.40),(86,.395),(88,.40),(90,.405),(92,.395),(94,.40),(95,.395),(96,.40),(98,.39),(99,.395),(100,.385)]

# ---------------- panel content ----------------
PANELS = [
    dict(title="(a) Bibtex", ylim=(0.25, 0.65), yticks=Y_TICKS_A, labels=LABELS,
         series=[a_arc_mi, a_arc_rand, a_mlknn_mi, a_mlknn_rand, a_rba_mi, a_rba_rand]),
    dict(title="(b) Bookmarks", ylim=(0.1, 0.7), yticks=Y_TICKS_B, labels=LABELS,
         series=[b_arc_mi, b_arc_rand, b_mlknn_mi, b_mlknn_rand, b_rba_mi, b_rba_rand]),
    dict(title="(c) CAL500", ylim=(0.1, 0.7), yticks=Y_TICKS_C, labels=LABELS,
         series=[c_arc_mi, c_arc_rand, c_mlknn_mi, c_mlknn_rand, c_rba_mi, c_rba_rand]),
    dict(title="(d) Corel5K", ylim=(0.2, 0.55), yticks=Y_TICKS_D, labels=LABELS,
         series=[d_arc_mi, d_arc_rand, d_mlknn_mi, d_mlknn_rand, d_rba_mi, d_rba_rand]),
    dict(title="(e) Enron", ylim=(0.2, 0.7), yticks=Y_TICKS_E, labels=LABELS,
         series=[e_arc_mi, e_arc_rand, e_mlknn_mi, e_mlknn_rand, e_rba_mi, e_rba_rand]),
    dict(title="(f) NUS-WIDE", ylim=(0.1, 0.8), yticks=Y_TICKS_F, labels=LABELS,
         series=[f_arc_mi, f_arc_rand, f_mlknn_mi, f_mlknn_rand, f_rba_mi, f_rba_rand]),
    dict(title="(g) TMC2007", ylim=(0.1, 0.8), yticks=Y_TICKS_G, labels=LABELS_G,
         series=[g_arc_mi, g_arc_rand, g_mlknn_mi, g_mlknn_rand, g_rba_mi, g_rba_rand]),
    dict(title="(h) Yeast", ylim=(0.25, 0.65), yticks=Y_TICKS_H, labels=LABELS,
         series=[h_arc_mi, h_arc_rand, h_mlknn_mi, h_mlknn_rand, h_rba_mi, h_rba_rand]),
]

# ---------------- layout / style (pixels) ----------------
# to: title offset from frame left; ts: title standoff; sp: gap between frame and title
GEOM = [
    dict(w=336, h=392, bl=44, br=13, bt=42, bb=71, tf=13, ys=7,  ls=-12, to=72, ts=0, sp=10, lf=12.0, lh=13, lw=1.8),
    dict(w=320, h=392, bl=41, br=11, bt=47, bb=77, tf=15, ys=3,  ls=-1,  to=48, ts=0, sp=15, lf=12.0, lh=13, lw=1.4),
    dict(w=322, h=392, bl=43, br=12, bt=47, bb=77, tf=15, ys=3,  ls=1,   to=65, ts=0, sp=15, lf=12.0, lh=13, lw=1.8),
    dict(w=332, h=392, bl=49, br=19, bt=54, bb=75, tf=13, ys=5,  ls=2,   to=61, ts=0, sp=22, lf=11.5, lh=13, lw=1.8),
    dict(w=336, h=362, bl=49, br=16, bt=48, bb=43, tf=15, ys=3,  ls=3,   to=73, ts=6, sp=10, lf=12.0, lh=13, lw=1.8),
    dict(w=320, h=362, bl=37, br=11, bt=48, bb=43, tf=15, ys=3,  ls=-5,  to=50, ts=6, sp=10, lf=12.0, lh=13, lw=1.6),
    dict(w=322, h=362, bl=45, br=11, bt=53, bb=43, tf=15, ys=5,  ls=-1,  to=53, ts=6, sp=15, lf=10.8, lh=12, lw=1.8),
    dict(w=332, h=362, bl=54, br=18, bt=59, bb=43, tf=13, ys=12, ls=-6,  to=71, ts=6, sp=21, lf=10.3, lh=12, lw=1.8),
]

BLUE, ORANGE, PURPLE, GREEN, LBLUE = "#0072BD", "#D95319", "#7E2F8E", "#77AC30", "#4DBEEE"
ARC_RAND_COLORS = ["#A0400F", ORANGE, ORANGE, ORANGE, ORANGE, ORANGE, ORANGE, ORANGE]
YELLOWS = ["#F2CB1E", "#EDB120", "#EDB120", "#EDB120", "#EDB120", "#F7D117", "#F7D117", "#EDB120"]
DASHES = ["7 3 2 3", "solid", "9 6", "solid", "2 2", "solid"]
AX = "#262626"
SERIF = "Liberation Serif"


def make_panel(i):
    pdef, g = PANELS[i], GEOM[i]
    lo, hi = pdef["ylim"]
    p = figure(width=g["w"], height=g["h"], x_range=Range1d(0, 100), y_range=Range1d(lo, hi),
               output_backend="svg", toolbar_location=None, frame_align=False,
               min_border_left=g["bl"], min_border_right=g["br"],
               min_border_top=g["bt"], min_border_bottom=g["bb"])
    p.background_fill_color = "white"
    p.border_fill_color = "white"
    p.outline_line_color = AX
    p.outline_line_width = 1.2
    p.xgrid.visible = False
    p.ygrid.visible = False

    p.title.text = pdef["title"]
    p.title.align = "left"
    p.title.offset = g["to"]
    p.title.text_font = SERIF
    p.title.text_font_style = "normal"
    p.title.text_font_size = "26px"
    p.title.text_color = "black"
    p.title.standoff = g["ts"]

    colors = [BLUE, ARC_RAND_COLORS[i], YELLOWS[i], PURPLE, GREEN, LBLUE]
    for k, pts in enumerate(pdef["series"]):
        xs = [q[0] for q in pts]
        ys = [q[1] for q in pts]
        lw = g["lw"]
        if i == 1 and k == 5:
            lw = 1.0
        p.line(xs, ys, line_color=colors[k], line_width=lw, line_dash=DASHES[k],
               legend_label=pdef["labels"][k])

    fmt = CustomJSTickFormatter(code="return (Math.round(tick*1000)/1000).toString();")
    xa, ya = p.xaxis[0], p.yaxis[0]
    xa.ticker = FixedTicker(ticks=X_TICKS)
    ya.ticker = FixedTicker(ticks=pdef["yticks"])
    ya.formatter = fmt
    xa.axis_label = "Number of data points"
    ya.axis_label = "Loss"
    for ax in (xa, ya):
        ax.axis_line_color = AX
        ax.axis_line_width = 1.2
        ax.major_tick_line_color = AX
        ax.major_tick_in = 4
        ax.major_tick_out = 0
        ax.minor_tick_line_color = None
        ax.major_label_text_font = SERIF
        ax.major_label_text_font_style = "bold"
        ax.major_label_text_font_size = f"{g['tf']}px"
        ax.major_label_text_color = "black"
        ax.axis_label_text_font = SERIF
        ax.axis_label_text_font_style = "bold"
        ax.axis_label_text_font_size = "16px"
        ax.axis_label_text_color = "black"
    ya.major_label_standoff = g["ys"]
    ya.axis_label_standoff = g["ls"]
    xa.major_label_standoff = 7
    xa.axis_label_standoff = -1

    # box ticks on top and right
    empty = CustomJSTickFormatter(code="return '';")
    top = LinearAxis(ticker=FixedTicker(ticks=X_TICKS), formatter=empty)
    right = LinearAxis(ticker=FixedTicker(ticks=pdef["yticks"]), formatter=empty)
    for ax in (top, right):
        ax.axis_line_color = AX
        ax.major_tick_line_color = AX
        ax.major_tick_in = 4
        ax.major_tick_out = 0
        ax.minor_tick_line_color = None
        ax.major_label_standoff = 0
        ax.major_label_text_font_size = "1px"
    p.add_layout(top, "above")
    p.add_layout(right, "right")

    # invisible spacer between frame and caption (its outward tick length reserves the gap)
    spacer = LinearAxis(ticker=FixedTicker(ticks=X_TICKS), formatter=empty,
                        axis_line_color=None, major_tick_line_color=None,
                        minor_tick_line_color=None, major_tick_in=0,
                        major_tick_out=g["sp"], major_label_standoff=0,
                        major_label_text_font_size="1px")
    p.add_layout(spacer, "above")

    lg = p.legend[0]
    lg.location = "top_right"
    lg.margin = 6
    lg.padding = 2
    lg.spacing = 0
    lg.label_height = g["lh"]
    lg.glyph_height = g["lh"]
    lg.glyph_width = 22
    lg.label_standoff = 3
    lg.label_text_font = SERIF
    lg.label_text_font_style = "bold"
    lg.label_text_font_size = f"{g['lf']}px"
    lg.label_text_color = "black"
    lg.border_line_color = AX
    lg.border_line_width = 1.2
    lg.background_fill_color = "white"
    lg.background_fill_alpha = 1.0
    return p


figs = [make_panel(i) for i in range(8)]
layout = column(row(*figs[:4]), row(*figs[4:]))
open("out.html", "w").write(file_html(layout, INLINE, title="Loss curves"))
